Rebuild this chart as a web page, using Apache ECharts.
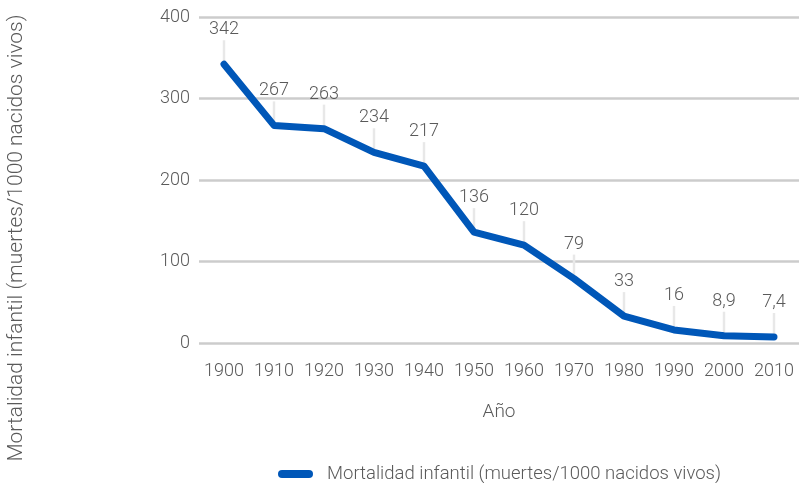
<!DOCTYPE html>
<html>
<head>
<meta charset="utf-8">
<script src="https://cdn.jsdelivr.net/npm/echarts@6/dist/echarts.min.js"></script>
<style>
  html, body { margin: 0; padding: 0; background: #fff; }
  #chart { width: 799px; height: 483px; }
</style>
</head>
<body>
<div id="chart"></div>
<script>
// Infant mortality per decade (deaths per 1000 live births)
const years = ['1900', '1910', '1920', '1930', '1940', '1950', '1960', '1970', '1980', '1990', '2000', '2010'];
const mortality = [342, 267, 263, 234, 217, 136, 120, 79, 33, 16, 8.9, 7.4];
const yTicks = [0, 100, 200, 300, 400];

const seriesName = 'Mortalidad infantil (muertes/1000 nacidos vivos)';
const FONT = 'Roboto, "Noto Sans", sans-serif';
const TEXT = '#5a5a5a';
const BLUE = '#0057b8';

const chart = echarts.init(document.getElementById('chart'), null, { renderer: 'canvas' });

chart.setOption({
  animation: false,
  textStyle: { fontFamily: FONT, fontWeight: 300 },
  grid: { left: 199, top: 17, width: 604, height: 326, containLabel: false },
  legend: {
    data: [{ name: seriesName, icon: 'path://M4,0 L31,0 A4,4 0 0 1 31,8 L4,8 A4,4 0 0 1 4,0 Z' }],
    left: 273,
    top: 458,
    itemWidth: 35,
    itemHeight: 8,
    textStyle: { fontFamily: FONT, fontWeight: 300, fontSize: 18.5, color: TEXT, lineHeight: 22, padding: [0, 0, 0, 9] }
  },
  xAxis: {
    type: 'category',
    data: years,
    boundaryGap: true,
    name: 'Año',
    nameLocation: 'middle',
    nameGap: 60,
    nameTextStyle: { fontFamily: FONT, fontWeight: 300, fontSize: 19, color: TEXT },
    axisLine: { show: false },
    axisTick: { show: false },
    axisLabel: { fontFamily: FONT, fontWeight: 300, fontSize: 18, color: TEXT, margin: 19, interval: 0 }
  },
  yAxis: {
    type: 'value',
    min: yTicks[0],
    max: yTicks[yTicks.length - 1],
    interval: 100,
    axisLine: { show: false },
    axisTick: { show: false },
    axisLabel: { fontFamily: FONT, fontWeight: 300, fontSize: 18, color: TEXT, margin: 9 },
    splitLine: { lineStyle: { color: '#cccccc', width: 2.5 } }
  },
  graphic: [{
    type: 'text',
    x: 17,
    y: 238,
    rotation: Math.PI / 2,
    style: {
      text: seriesName,
      fontFamily: FONT,
      fontWeight: 300,
      fontSize: 21,
      fill: TEXT,
      align: 'center',
      verticalAlign: 'middle'
    }
  }],
  series: [
    {
      // thin leader ticks joining each value label to its point
      type: 'custom',
      silent: true,
      z: 1,
      data: mortality.map((v, i) => [i, v]),
      encode: { x: 0, y: 1 },
      renderItem: function (params, api) {
        const p = api.coord([api.value(0), api.value(1)]);
        return {
          type: 'line',
          shape: { x1: p[0], y1: p[1] - 24, x2: p[0], y2: p[1] - 2 },
          style: { stroke: '#e8e8e8', lineWidth: 2.5 }
        };
      }
    },
    {
      name: seriesName,
      type: 'line',
      z: 3,
      data: mortality,
      symbol: 'circle',
      symbolSize: 1,
      showSymbol: true,
      color: BLUE,
      itemStyle: { color: BLUE },
      lineStyle: { color: BLUE, width: 7, cap: 'round', join: 'round' },
      label: {
        show: true,
        position: 'top',
        distance: 25,
        fontFamily: FONT,
        fontWeight: 300,
        fontSize: 18,
        color: TEXT,
        formatter: p => String(p.value).replace('.', ',')
      }
    }
  ]
});
</script>
</body>
</html>
